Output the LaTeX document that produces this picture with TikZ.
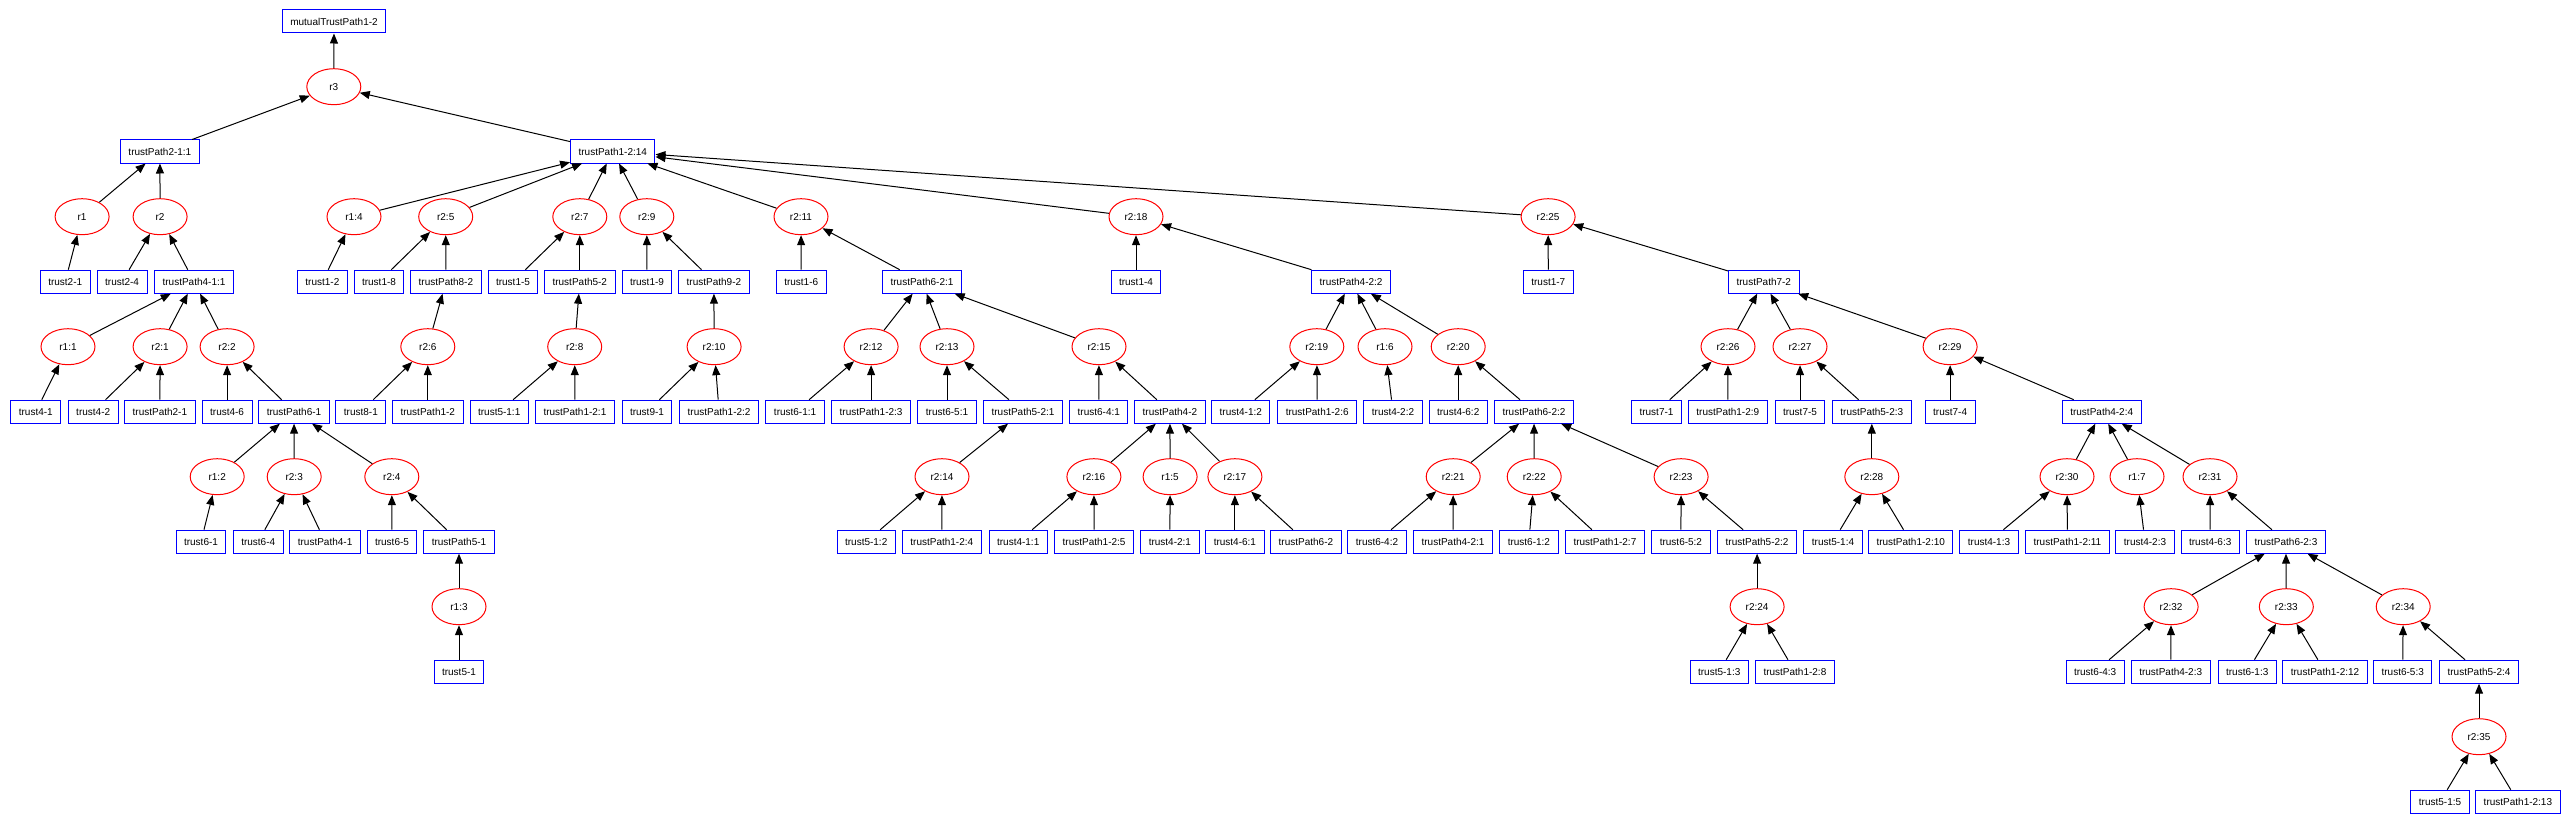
\documentclass[tikz,border=0pt]{standalone}
\usepackage{fontspec}
\setmainfont{Liberation Sans}
\usetikzlibrary{shapes.geometric,arrows.meta}
\begin{document}
\begin{tikzpicture}[x=1pt,y=-1pt,
  bx/.style={draw=blue, line width=1pt, rectangle, minimum height=23pt, inner xsep=8pt, inner ysep=2pt, font=\fontsize{10}{12}\selectfont},
  el/.style={draw=red, line width=1pt, ellipse, minimum width=54pt, minimum height=36pt, inner sep=0pt, font=\fontsize{10}{12}\selectfont},
  edge/.style={line width=1pt, draw=black, -{Triangle[length=10pt,width=8pt]}}]
\useasboundingbox (0,0) rectangle (2572,824);
% row 0-2
\node[bx] (m) at (334,21.5) {mutualTrustPath1-2};
\node[el] (rthree) at (333.8,86.7) {r3};
\node[bx] (p21c1) at (159.9,151.5) {trustPath2-1:1};
\node[bx] (p12c14) at (612.8,151.5) {trustPath1-2:14};
% row 3
\node[el] (rone) at (82.1,216.7) {r1};
\node[el] (rtwo) at (160.1,216.7) {r2};
\node[el] (r1c4) at (354.0,216.7) {r1:4};
\node[el] (r2c5) at (445.7,216.7) {r2:5};
\node[el] (r2c7) at (579.8,216.7) {r2:7};
\node[el] (r2c9) at (646.8,216.7) {r2:9};
\node[el] (r2c11) at (801.0,216.7) {r2:11};
\node[el] (r2c18) at (1136.0,216.7) {r2:18};
\node[el] (r2c25) at (1548.1,216.7) {r2:25};
% row 4
\node[bx] (t21) at (65.2,281.7) {trust2-1};
\node[bx] (t24) at (122.1,281.7) {trust2-4};
\node[bx] (p41c1) at (194.0,281.7) {trustPath4-1:1};
\node[bx] (t12) at (322.4,281.7) {trust1-2};
\node[bx] (t18) at (379.0,281.7) {trust1-8};
\node[bx] (p82) at (445.9,281.7) {trustPath8-2};
\node[bx] (t15) at (513.0,281.7) {trust1-5};
\node[bx] (p52) at (579.8,281.7) {trustPath5-2};
\node[bx] (t19) at (647.0,281.7) {trust1-9};
\node[bx] (p92) at (713.9,281.7) {trustPath9-2};
\node[bx] (t16) at (801.2,281.7) {trust1-6};
\node[bx] (p62c1) at (922.0,281.7) {trustPath6-2:1};
\node[bx] (t14) at (1136.0,281.7) {trust1-4};
\node[bx] (p42c2) at (1351.1,281.7) {trustPath4-2:2};
\node[bx] (t17) at (1548.3,281.7) {trust1-7};
\node[bx] (p72) at (1763.8,281.7) {trustPath7-2};
% row 5
\node[el] (r1c1) at (68.0,346.7) {r1:1};
\node[el] (r2c1) at (160.1,346.7) {r2:1};
\node[el] (r2c2) at (227.1,346.7) {r2:2};
\node[el] (r2c6) at (427.8,346.7) {r2:6};
\node[el] (r2c8) at (574.7,346.7) {r2:8};
\node[el] (r2c10) at (714.1,346.7) {r2:10};
\node[el] (r2c12) at (871.1,346.7) {r2:12};
\node[el] (r2c13) at (947.0,346.7) {r2:13};
\node[el] (r2c15) at (1099.0,346.7) {r2:15};
\node[el] (r2c19) at (1316.8,346.7) {r2:19};
\node[el] (r1c6) at (1385.0,346.7) {r1:6};
\node[el] (r2c20) at (1458.2,346.7) {r2:20};
\node[el] (r2c26) at (1728.0,346.7) {r2:26};
\node[el] (r2c27) at (1800.0,346.7) {r2:27};
\node[el] (r2c29) at (1950.1,346.7) {r2:29};
% row 6
\node[bx] (t41) at (35.8,411.7) {trust4-1};
\node[bx] (t42) at (93.2,411.7) {trust4-2};
\node[bx] (p21) at (159.9,411.7) {trustPath2-1};
\node[bx] (t46) at (227.1,411.7) {trust4-6};
\node[bx] (p61) at (294.0,411.7) {trustPath6-1};
\node[bx] (t81) at (360.9,411.7) {trust8-1};
\node[bx] (p12) at (427.8,411.7) {trustPath1-2};
\node[bx] (t51c1) at (499.2,411.7) {trust5-1:1};
\node[bx] (p12c1) at (574.9,411.7) {trustPath1-2:1};
\node[bx] (t91) at (647.0,411.7) {trust9-1};
\node[bx] (p12c2) at (719.1,411.7) {trustPath1-2:2};
\node[bx] (t61c1) at (795.1,411.7) {trust6-1:1};
\node[bx] (p12c3) at (871.1,411.7) {trustPath1-2:3};
\node[bx] (t65c1) at (947.0,411.7) {trust6-5:1};
\node[bx] (p52c1) at (1023.0,411.7) {trustPath5-2:1};
\node[bx] (t64c1) at (1098.8,411.7) {trust6-4:1};
\node[bx] (p42) at (1169.9,411.7) {trustPath4-2};
\node[bx] (t41c2) at (1240.8,411.7) {trust4-1:2};
\node[bx] (p12c6) at (1317.2,411.7) {trustPath1-2:6};
\node[bx] (t42c2) at (1393.0,411.7) {trust4-2:2};
\node[bx] (t46c2) at (1458.2,411.7) {trust4-6:2};
\node[bx] (p62c2) at (1534.0,411.7) {trustPath6-2:2};
\node[bx] (t71) at (1656.5,411.7) {trust7-1};
\node[bx] (p12c9) at (1727.8,411.7) {trustPath1-2:9};
\node[bx] (t75) at (1800.0,411.7) {trust7-5};
\node[bx] (p52c3) at (1871.8,411.7) {trustPath5-2:3};
\node[bx] (t74) at (1950.1,411.7) {trust7-4};
\node[bx] (p42c4) at (2101.7,411.7) {trustPath4-2:4};
% row 7
\node[el] (r1c2) at (217.2,476.7) {r1:2};
\node[el] (r2c3) at (294.2,476.7) {r2:3};
\node[el] (r2c4) at (391.8,476.7) {r2:4};
\node[el] (r2c14) at (942.0,476.7) {r2:14};
\node[el] (r2c16) at (1093.9,476.7) {r2:16};
\node[el] (r1c5) at (1170.1,476.7) {r1:5};
\node[el] (r2c17) at (1234.9,476.7) {r2:17};
\node[el] (r2c21) at (1453.2,476.7) {r2:21};
\node[el] (r2c22) at (1534.2,476.7) {r2:22};
\node[el] (r2c23) at (1681.1,476.7) {r2:23};
\node[el] (r2c28) at (1871.8,476.7) {r2:28};
\node[el] (r2c30) at (2067.0,476.7) {r2:30};
\node[el] (r1c7) at (2137.0,476.7) {r1:7};
\node[el] (r2c31) at (2210.0,476.7) {r2:31};
% row 8
\node[bx] (t61) at (201.0,541.7) {trust6-1};
\node[bx] (t64) at (258.2,541.7) {trust6-4};
\node[bx] (p41) at (325.1,541.7) {trustPath4-1};
\node[bx] (t65) at (392.0,541.7) {trust6-5};
\node[bx] (p51) at (459.0,541.7) {trustPath5-1};
\node[bx] (t51c2) at (866.2,541.7) {trust5-1:2};
\node[bx] (p12c4) at (941.8,541.7) {trustPath1-2:4};
\node[bx] (t41c1) at (1018.2,541.7) {trust4-1:1};
\node[bx] (p12c5) at (1094.1,541.7) {trustPath1-2:5};
\node[bx] (t42c1) at (1169.9,541.7) {trust4-2:1};
\node[bx] (t46c1) at (1234.9,541.7) {trust4-6:1};
\node[bx] (p62) at (1305.9,541.7) {trustPath6-2};
\node[bx] (t64c2) at (1377.0,541.7) {trust6-4:2};
\node[bx] (p42c1) at (1453.0,541.7) {trustPath4-2:1};
\node[bx] (t61c2) at (1528.9,541.7) {trust6-1:2};
\node[bx] (p12c7) at (1604.9,541.7) {trustPath1-2:7};
\node[bx] (t65c2) at (1680.9,541.7) {trust6-5:2};
\node[bx] (p52c2) at (1757.1,541.7) {trustPath5-2:2};
\node[bx] (t51c4) at (1833.0,541.7) {trust5-1:4};
\node[bx] (p12c10) at (1910.7,541.7) {trustPath1-2:10};
\node[bx] (t41c3) at (1989.0,541.7) {trust4-1:3};
\node[bx] (p12c11) at (2067.4,541.7) {trustPath1-2:11};
\node[bx] (t42c3) at (2145.0,541.7) {trust4-2:3};
\node[bx] (t46c3) at (2210.2,541.7) {trust4-6:3};
\node[bx] (p62c3) at (2285.9,541.7) {trustPath6-2:3};
% row 9
\node[el] (r1c3) at (459.0,606.7) {r1:3};
\node[el] (r2c24) at (1757.1,606.7) {r2:24};
\node[el] (r2c32) at (2171.1,606.7) {r2:32};
\node[el] (r2c33) at (2286.3,606.7) {r2:33};
\node[el] (r2c34) at (2403.2,606.7) {r2:34};
% row 10
\node[bx] (t51) at (459.0,671.7) {trust5-1};
\node[bx] (t51c3) at (1719.2,671.7) {trust5-1:3};
\node[bx] (p12c8) at (1794.9,671.7) {trustPath1-2:8};
\node[bx] (t64c3) at (2095.1,671.7) {trust6-4:3};
\node[bx] (p42c3) at (2170.7,671.7) {trustPath4-2:3};
\node[bx] (t61c3) at (2247.2,671.7) {trust6-1:3};
\node[bx] (p12c12) at (2325.0,671.7) {trustPath1-2:12};
\node[bx] (t65c3) at (2402.7,671.7) {trust6-5:3};
\node[bx] (p52c4) at (2479.0,671.7) {trustPath5-2:4};
% row 11-12
\node[el] (r2c35) at (2479.0,736.7) {r2:35};
\node[bx] (t51c5) at (2440.0,801.7) {trust5-1:5};
\node[bx] (p12c13) at (2517.9,801.7) {trustPath1-2:13};
% edges (child -> parent)
\foreach \a/\b in {rthree/m, p21c1/rthree, p12c14/rthree,
 rone/p21c1, rtwo/p21c1, t21/rone, t24/rtwo, p41c1/rtwo,
 r1c1/p41c1, r2c1/p41c1, r2c2/p41c1, t41/r1c1, t42/r2c1, p21/r2c1, t46/r2c2, p61/r2c2,
 r1c2/p61, r2c3/p61, r2c4/p61, t61/r1c2, t64/r2c3, p41/r2c3, t65/r2c4, p51/r2c4, r1c3/p51, t51/r1c3,
 r1c4/p12c14, r2c5/p12c14, r2c7/p12c14, r2c9/p12c14, r2c11/p12c14, r2c18/p12c14, r2c25/p12c14,
 t12/r1c4, t18/r2c5, p82/r2c5, r2c6/p82, t81/r2c6, p12/r2c6,
 t15/r2c7, p52/r2c7, r2c8/p52, t51c1/r2c8, p12c1/r2c8,
 t19/r2c9, p92/r2c9, r2c10/p92, t91/r2c10, p12c2/r2c10,
 t16/r2c11, p62c1/r2c11, r2c12/p62c1, r2c13/p62c1, r2c15/p62c1,
 t61c1/r2c12, p12c3/r2c12, t65c1/r2c13, p52c1/r2c13, r2c14/p52c1, t51c2/r2c14, p12c4/r2c14,
 t64c1/r2c15, p42/r2c15, r2c16/p42, r1c5/p42, r2c17/p42, t41c1/r2c16, p12c5/r2c16, t42c1/r1c5, t46c1/r2c17, p62/r2c17,
 t14/r2c18, p42c2/r2c18, r2c19/p42c2, r1c6/p42c2, r2c20/p42c2, t41c2/r2c19, p12c6/r2c19, t42c2/r1c6, t46c2/r2c20, p62c2/r2c20,
 r2c21/p62c2, r2c22/p62c2, r2c23/p62c2, t64c2/r2c21, p42c1/r2c21, t61c2/r2c22, p12c7/r2c22, t65c2/r2c23, p52c2/r2c23, r2c24/p52c2, t51c3/r2c24, p12c8/r2c24,
 t17/r2c25, p72/r2c25, r2c26/p72, r2c27/p72, r2c29/p72, t71/r2c26, p12c9/r2c26, t75/r2c27, p52c3/r2c27, r2c28/p52c3, t51c4/r2c28, p12c10/r2c28,
 t74/r2c29, p42c4/r2c29, r2c30/p42c4, r1c7/p42c4, r2c31/p42c4, t41c3/r2c30, p12c11/r2c30, t42c3/r1c7, t46c3/r2c31, p62c3/r2c31,
 r2c32/p62c3, r2c33/p62c3, r2c34/p62c3, t64c3/r2c32, p42c3/r2c32, t61c3/r2c33, p12c12/r2c33, t65c3/r2c34, p52c4/r2c34, r2c35/p52c4, t51c5/r2c35, p12c13/r2c35}
 {\draw[edge] (\a) -- (\b);}
\end{tikzpicture}
\end{document}
